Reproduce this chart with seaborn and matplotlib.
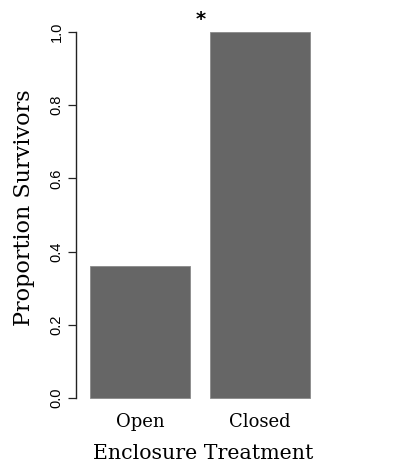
import matplotlib
matplotlib.use("Agg")
import matplotlib.pyplot as plt
import seaborn as sns
import pandas as pd

treatments = ["Open", "Closed"]
survival = [0.36, 1.0]
y_ticks = [0.0, 0.2, 0.4, 0.6, 0.8, 1.0]
y_tick_labels = ["0.0", "0.2", "0.4", "0.6", "0.8", "1.0"]
marker_text = "*"

sns.set_style("white")
plt.rcParams["font.family"] = ["DejaVu Serif"]
plt.rcParams["text.color"] = "black"
plt.rcParams["axes.labelcolor"] = "black"
plt.rcParams["xtick.color"] = "black"
plt.rcParams["ytick.color"] = "black"

df = pd.DataFrame({"Treatment": treatments, "Survival": survival})

fig = plt.figure(figsize=(4.0, 4.72), dpi=100)
ax = fig.add_axes([76 / 400, 1 - 412.6 / 472, (330 - 76) / 400, (412.6 - 17.4) / 472])

sns.barplot(data=df, x="Treatment", y="Survival", color="#666666",
            width=0.8333, edgecolor="#8a8a8a", linewidth=0.6, saturation=1,
            ax=ax)

ax.set_xlim(-0.533, 1.583)
ax.set_ylim(-0.04, 1.04)

for s in ["top", "right", "bottom"]:
    ax.spines[s].set_visible(False)
ax.spines["left"].set_bounds(0, 1)
ax.spines["left"].set_color("#222222")
ax.spines["left"].set_linewidth(1.0)

ax.set_yticks(y_ticks)
ax.set_yticklabels(y_tick_labels, rotation=90, va="center",
                   family=["Liberation Sans"], fontsize=10.5)
ax.tick_params(axis="y", direction="out", length=5.8, width=0.9,
               color="#222222", pad=3.0, left=True)
ax.tick_params(axis="x", length=0, pad=0, labelsize=13)

ax.set_xlabel("Enclosure Treatment", fontsize=14.8, labelpad=10)
ax.set_ylabel("Proportion Survivors", fontsize=16)
ax.yaxis.set_label_coords(-0.161, 0.5177)

ax.text(0.508, 1.033, marker_text, ha="center", va="center", fontsize=14,
        family=["DejaVu Sans"], fontweight="bold", clip_on=False)

fig.savefig("out.png", dpi=100)
